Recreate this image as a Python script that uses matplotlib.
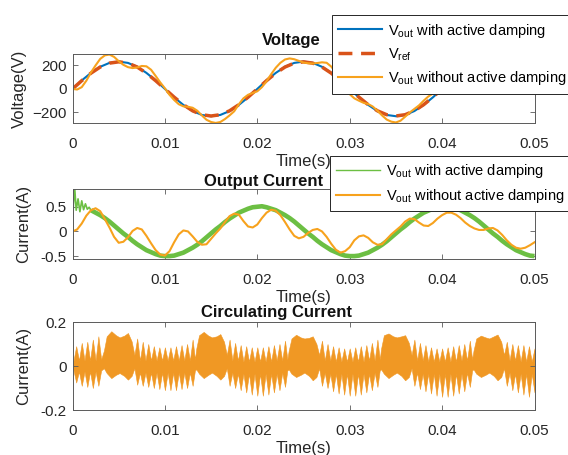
import numpy as np
import matplotlib
matplotlib.use('Agg')
import matplotlib.pyplot as plt
from matplotlib.lines import Line2D

plt.rcParams['font.family'] = ['Liberation Sans', 'DejaVu Sans']
plt.rcParams['mathtext.fontset'] = 'custom'
plt.rcParams['mathtext.rm'] = 'Liberation Sans'
plt.rcParams['mathtext.it'] = 'Liberation Sans:italic'
plt.rcParams['mathtext.bf'] = 'Liberation Sans:bold'

# ---- data ----
t_1ms = np.linspace(0, 0.05, 51)      # 1 ms grid
t_half = np.linspace(0, 0.05, 101)    # 0.5 ms grid

# voltage (V), 1 ms grid
v_damped = [0, 72, 136, 188, 221, 232, 221, 188, 136, 72,
            0, -72, -136, -188, -221, -232, -221, -188, -136, -72,
            0, 72, 136, 188, 221, 232, 221, 188, 136, 72,
            0, -72, -136, -188, -221, -232, -221, -188, -136, -72,
            0, 72, 136, 188, 221, 232, 221, 188, 136, 72, 0]
v_ref = [0, 70, 134, 186, 219, 230, 219, 186, 134, 70,
         0, -70, -134, -186, -219, -230, -219, -186, -134, -70,
         0, 70, 134, 186, 219, 230, 219, 186, 134, 70,
         0, -70, -134, -186, -219, -230, -219, -186, -134, -70,
         0, 70, 134, 186, 219, 230, 219, 186, 134, 70, 0]
# voltage without damping (V), 0.5 ms grid
v_undamped = [0, -5, 15, 70, 140, 200, 255, 285, 292, 272,
              236, 205, 185, 177, 182, 195, 192, 163, 110, 55,
              5, -50, -94, -130, -148, -152, -160, -185, -225, -262,
              -281, -289, -281, -256, -225, -190, -130, -80, -50, -35,
              -20, 15, 65, 125, 180, 222, 250, 259, 252, 238,
              224, 218, 216, 220, 226, 222, 190, 140, 80, 15,
              -45, -80, -100, -118, -128, -150, -185, -225, -260, -278,
              -285, -270, -236, -200, -170, -140, -100, -65, -40, -15,
              10, 50, 110, 165, 210, 240, 250, 245, 232, 222,
              218, 222, 222, 205, 170, 120, 65, 20, -5, -20, -30]

# output current (A): start-up transient, then the 0.5 ms grid from 2 ms
i_damped_t = [0, 0.0001, 0.00025, 0.0004, 0.0006, 0.0008, 0.001, 0.0012,
              0.0014, 0.0016, 0.0018, 0.002]
i_damped_start = [0.0, 0.55, 0.85, 0.43, 0.66, 0.40, 0.62, 0.44, 0.56, 0.45, 0.49, 0.43]
i_damped = [0.43, 0.38, 0.33, 0.27, 0.20, 0.12, 0.04, -0.04, -0.11, -0.19,
            -0.26, -0.32, -0.38, -0.42, -0.46, -0.49,
            -0.50, -0.50, -0.49, -0.46, -0.43, -0.38, -0.33, -0.27, -0.20, -0.12,
            -0.04, 0.04, 0.11, 0.19, 0.26, 0.32, 0.38, 0.42, 0.46, 0.49,
            0.50, 0.51, 0.49, 0.46, 0.43, 0.38, 0.33, 0.27, 0.20, 0.12,
            0.04, -0.04, -0.11, -0.19, -0.26, -0.32, -0.38, -0.42, -0.46, -0.49,
            -0.50, -0.50, -0.49, -0.46, -0.43, -0.38, -0.33, -0.27, -0.20, -0.12,
            -0.04, 0.04, 0.11, 0.19, 0.26, 0.32, 0.38, 0.42, 0.46, 0.49,
            0.50, 0.50, 0.49, 0.46, 0.43, 0.38, 0.33, 0.27, 0.20, 0.12,
            0.04, -0.04, -0.11, -0.19, -0.26, -0.32, -0.38, -0.42, -0.46, -0.49, -0.50]
i_undamped = [0.00, 0.04, 0.16, 0.32, 0.43, 0.47, 0.41, 0.25, 0.08, -0.11,
              -0.23, -0.21, -0.12, 0.01, 0.07, 0.04, -0.09, -0.24, -0.38, -0.47,
              -0.49, -0.40, -0.22, -0.06, 0.02, 0.00, -0.10, -0.21, -0.27, -0.26,
              -0.15, -0.04, 0.06, 0.19, 0.31, 0.36, 0.34, 0.21, 0.10, 0.08,
              0.14, 0.27, 0.38, 0.44, 0.42, 0.33, 0.19, 0.04, -0.09, -0.14,
              -0.11, -0.03, 0.03, 0.05, 0.00, -0.11, -0.25, -0.37, -0.43, -0.40,
              -0.32, -0.18, -0.10, -0.08, -0.13, -0.22, -0.27, -0.26, -0.16, -0.06,
              0.02, 0.10, 0.20, 0.26, 0.25, 0.18, 0.12, 0.11, 0.17, 0.26,
              0.33, 0.38, 0.38, 0.34, 0.27, 0.18, 0.11, 0.06, 0.03, 0.03,
              0.06, 0.07, 0.02, -0.07, -0.18, -0.27, -0.33, -0.35, -0.33, -0.28, -0.22]

# circulating current envelope (ms, upper A, lower A)
circ_ms = [0.0, 0.4, 0.7, 1.0, 1.3, 1.6, 1.9, 2.2, 2.5, 2.8, 3.1,
           3.4, 3.7, 4.2, 4.7, 5.1, 5.6, 6.0, 6.4, 6.7,
           7.0, 7.3, 7.6, 7.9, 8.2, 8.5, 8.8, 9.1, 9.4, 9.7, 10.0, 10.3, 10.6, 10.9,
           11.2, 11.5, 11.8, 12.1, 12.4, 12.7, 13.0, 13.25,
           13.4, 13.7, 14.2, 14.7, 15.1, 15.6, 16.0, 16.4, 16.7,
           17.0, 17.3, 17.6, 17.9, 18.2, 18.5, 18.8, 19.1, 19.4, 19.7, 20.0, 20.3, 20.6, 20.9,
           21.2, 21.5, 21.8, 22.1, 22.4, 22.7, 23.0, 23.25,
           23.4, 23.7, 24.2, 24.7, 25.1, 25.6, 26.0, 26.4, 26.7,
           27.0, 27.3, 27.6, 27.9, 28.2, 28.5, 28.8, 29.1, 29.4, 29.7, 30.0, 30.3, 30.6, 30.9,
           31.2, 31.5, 31.8, 32.1, 32.4, 32.7, 33.0, 33.25,
           33.4, 33.7, 34.2, 34.7, 35.1, 35.6, 36.0, 36.4, 36.7,
           37.0, 37.3, 37.6, 37.9, 38.2, 38.5, 38.8, 39.1, 39.4, 39.7, 40.0, 40.3, 40.6, 40.9,
           41.2, 41.5, 41.8, 42.1, 42.4, 42.7, 43.0, 43.25,
           43.4, 43.7, 44.2, 44.7, 45.1, 45.6, 46.0, 46.4, 46.7,
           47.0, 47.3, 47.6, 47.9, 48.2, 48.5, 48.8, 49.1, 49.4, 49.7, 50.0]
circ_hi = [0.00, 0.09, 0.025, 0.105, 0.025, 0.11, 0.025, 0.12, 0.025, 0.135, 0.03,
           0.07, 0.135, 0.158, 0.14, 0.13, 0.138, 0.15, 0.112, 0.05,
           0.125, 0.025, 0.11, 0.025, 0.10, 0.025, 0.09, 0.025, 0.085, 0.025, 0.085, 0.025, 0.085, 0.025,
           0.09, 0.025, 0.095, 0.025, 0.10, 0.025, 0.12, 0.03,
           0.08, 0.14, 0.155, 0.138, 0.13, 0.135, 0.145, 0.11, 0.05,
           0.12, 0.025, 0.105, 0.025, 0.095, 0.02, 0.09, 0.02, 0.085, 0.02, 0.085, 0.02, 0.085, 0.02,
           0.09, 0.02, 0.095, 0.025, 0.10, 0.025, 0.115, 0.03,
           0.07, 0.125, 0.142, 0.13, 0.125, 0.128, 0.135, 0.10, 0.05,
           0.115, 0.025, 0.10, 0.025, 0.09, 0.02, 0.085, 0.02, 0.08, 0.02, 0.08, 0.02, 0.085, 0.02,
           0.09, 0.02, 0.095, 0.025, 0.105, 0.025, 0.12, 0.03,
           0.08, 0.14, 0.148, 0.135, 0.13, 0.135, 0.14, 0.105, 0.05,
           0.12, 0.025, 0.105, 0.025, 0.095, 0.02, 0.085, 0.02, 0.08, 0.02, 0.08, 0.02, 0.085, 0.02,
           0.09, 0.02, 0.095, 0.025, 0.10, 0.025, 0.115, 0.03,
           0.07, 0.125, 0.138, 0.13, 0.125, 0.135, 0.143, 0.11, 0.05,
           0.11, 0.025, 0.10, 0.025, 0.095, 0.02, 0.095, 0.02, 0.09, 0.02, 0.08]
circ_lo = [0.00, -0.075, -0.025, -0.09, -0.025, -0.095, -0.025, -0.10, -0.025, -0.09, -0.02,
           -0.01, -0.032, -0.055, -0.04, -0.032, -0.045, -0.062, -0.045, -0.01,
           -0.085, -0.03, -0.09, -0.03, -0.095, -0.03, -0.10, -0.03, -0.105, -0.03, -0.11, -0.03, -0.11, -0.03,
           -0.11, -0.03, -0.105, -0.03, -0.10, -0.03, -0.09, -0.02,
           -0.015, -0.035, -0.055, -0.04, -0.03, -0.045, -0.062, -0.045, -0.01,
           -0.09, -0.03, -0.10, -0.035, -0.11, -0.035, -0.12, -0.035, -0.13, -0.035, -0.135, -0.035, -0.135, -0.035,
           -0.13, -0.035, -0.12, -0.035, -0.11, -0.03, -0.095, -0.02,
           -0.015, -0.035, -0.05, -0.04, -0.03, -0.045, -0.065, -0.05, -0.01,
           -0.09, -0.03, -0.10, -0.035, -0.115, -0.035, -0.125, -0.035, -0.13, -0.035, -0.135, -0.035, -0.135, -0.035,
           -0.13, -0.035, -0.12, -0.035, -0.11, -0.03, -0.095, -0.02,
           -0.015, -0.035, -0.055, -0.04, -0.03, -0.045, -0.065, -0.05, -0.01,
           -0.09, -0.03, -0.105, -0.035, -0.115, -0.035, -0.125, -0.035, -0.135, -0.035, -0.14, -0.035, -0.14, -0.035,
           -0.135, -0.035, -0.125, -0.035, -0.115, -0.03, -0.095, -0.02,
           -0.015, -0.035, -0.05, -0.04, -0.03, -0.045, -0.065, -0.05, -0.01,
           -0.09, -0.03, -0.11, -0.035, -0.12, -0.035, -0.13, -0.035, -0.14, -0.035, -0.12]

xticks = [0, 0.01, 0.02, 0.03, 0.04, 0.05]
xticklabels = ['0', '0.01', '0.02', '0.03', '0.04', '0.05']

BLUE = '#0072BD'
RED = '#D95319'
ORANGE = '#F7A21D'
CIRC = '#F09824'
GREEN = '#6CBF43'
DARK = '#262626'

fig = plt.figure(figsize=(5.68, 4.55), dpi=100)
W, H = 568.0, 455.0
left, right = 72.5, 534.5

def make_axes(top, bottom):
    ax = fig.add_axes([left / W, 1 - bottom / H, (right - left) / W, (bottom - top) / H])
    for s in ax.spines.values():
        s.set_color('#5a5a5a')
        s.set_linewidth(0.7)
    ax.tick_params(direction='in', length=3.3, width=0.6, color='#5a5a5a',
                   top=True, right=True, labelsize=11, labelcolor=DARK)
    ax.tick_params(axis='x', pad=10)
    ax.tick_params(axis='y', pad=4)
    ax.set_xlim(0, 0.05)
    ax.set_xticks(xticks)
    ax.set_xticklabels(xticklabels)
    ax.set_xlabel('Time(s)', fontsize=12, color=DARK, labelpad=2)
    return ax

leg_kw = dict(loc='upper left', bbox_transform=fig.transFigure, borderaxespad=0,
              fontsize=10.5, handlelength=3.0, handletextpad=0.4, borderpad=0.45,
              labelspacing=0.45, fancybox=False, framealpha=1, edgecolor=DARK)

# ---- voltage ----
ax1 = make_axes(54.3, 123.3)
ax1.plot(t_1ms, v_damped, color=BLUE, lw=1.5, label=r'V$_{\mathrm{out}}$ with active damping')
ax1.plot(t_1ms, v_ref, color=RED, lw=2.5, ls=(0, (4, 2.5)), label=r'V$_{\mathrm{ref}}$')
ax1.plot(t_half, v_undamped, color=ORANGE, lw=1.5, label=r'V$_{\mathrm{out}}$ without active damping')
ax1.set_ylim(-292, 294)
ax1.set_yticks([-200, 0, 200])
ax1.set_ylabel('Voltage(V)', fontsize=12, color=DARK)
ax1.yaxis.set_label_coords((27.2 - left) / (right - left), 0.5)
lg1 = ax1.legend(bbox_to_anchor=(331.5 / W, 1 - 15 / H), **leg_kw)
lg1.get_frame().set_linewidth(0.7)

# ---- output current ----
ax2 = make_axes(189.0, 259.3)
ax2.plot(i_damped_t, i_damped_start, color=GREEN, lw=1.2)
ax2.plot(np.linspace(0.002, 0.05, 97), i_damped, color=GREEN, lw=3.3, solid_capstyle='butt')
ax2.plot(t_half, i_undamped, color=ORANGE, lw=1.5)
ax2.set_ylim(-0.565, 0.86)
ax2.set_yticks([-0.5, 0, 0.5])
ax2.set_yticklabels(['-0.5', '0', '0.5'])
ax2.set_ylabel('Current(A)', fontsize=12, color=DARK)
ax2.yaxis.set_label_coords((30.8 - left) / (right - left), 0.5)
handles2 = [Line2D([], [], color=GREEN, lw=1.0), Line2D([], [], color=ORANGE, lw=1.5)]
labels2 = [r'V$_{\mathrm{out}}$ with active damping', r'V$_{\mathrm{out}}$ without active damping']
lg2 = ax2.legend(handles2, labels2, bbox_to_anchor=(329.7 / W, 1 - 155.7 / H), **leg_kw)
lg2.get_frame().set_linewidth(0.7)

# ---- circulating current ----
ax3 = make_axes(322.0, 410.0)
circ_t = np.array(circ_ms) / 1000.0
ax3.fill_between(circ_t, circ_lo, circ_hi, color=CIRC, lw=0.4)
ax3.set_ylim(-0.2, 0.2)
ax3.set_yticks([-0.2, 0, 0.2])
ax3.set_yticklabels(['-0.2', '0', '0.2'])
ax3.set_ylabel('Current(A)', fontsize=12, color=DARK)
ax3.yaxis.set_label_coords((30.8 - left) / (right - left), 0.5)

# titles (placed where they sit in the original)
fig.text(261.6 / W, 1 - 45 / H, 'Voltage', fontsize=12, fontweight='bold', color='#111111', va='baseline')
fig.text(204 / W, 1 - 185.7 / H, 'Output Current', fontsize=12, fontweight='bold', color='#111111', va='baseline')
fig.text(201 / W, 1 - 316.7 / H, 'Circulating Current', fontsize=12, fontweight='bold', color='#111111', va='baseline')

fig.savefig('out.png', dpi=100)
